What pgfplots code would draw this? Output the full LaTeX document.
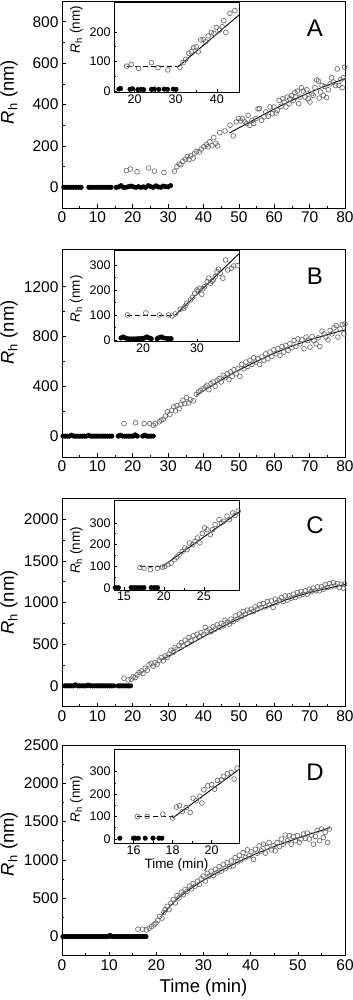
\documentclass[border=0pt]{standalone}
\usepackage{pgfplots}
\pgfplotsset{compat=1.18}
\usepackage{fontspec}
\setmainfont{Liberation Sans}
\definecolor{opengray}{RGB}{105,105,105}
\pgfplotsset{
  common/.style={scale only axis, anchor=north west, tick align=inside,
    xtick pos=left, ytick pos=left, minor x tick num=1, minor y tick num=1,
    tick style={black, line width=0.6bp}, axis line style={line width=0.8bp},
    /pgf/number format/assume math mode=true, scaled ticks=false,
    /pgf/number format/1000 sep={}, axis background/.style={fill=white}},
  mainax/.style={common, width=283bp, xmin=0, xmax=80, xtick={0,10,...,80},
    major tick length=4bp, minor tick length=2.5bp,
    tick label style={font=\fontsize{15.5bp}{18bp}\selectfont},
    label style={font=\fontsize{18.5bp}{21bp}\selectfont},
    ylabel={{\itshape R}\textsubscript{h} (nm)}},
  inset/.style={common, width=125bp, major tick length=3bp, minor tick length=2bp,
    tick label style={font=\fontsize{12.5bp}{15bp}\selectfont},
    xticklabel style={yshift=1.5bp},
    label style={font=\fontsize{13.5bp}{16bp}\selectfont},
    ylabel={{\itshape R}\textsubscript{h} (nm)}},
  openm/.style={only marks, mark=o, mark size=2.4bp, mark options={draw=opengray, line width=0.65bp}},
  fillm/.style={only marks, mark=*, mark size=2.3bp, mark options={fill=black, draw=black}},
  fitl/.style={black, line width=0.9bp, smooth, no marks},
  dashl/.style={black, line width=0.8bp, dash pattern=on 5bp off 3bp, no marks},
}
\newcommand{\panel}[1]{\node[font=\fontsize{24bp}{28bp}\selectfont] at (rel axis cs:0.894,0.87) {#1};}
\begin{document}
\begin{tikzpicture}
\useasboundingbox (0,0) rectangle (353bp,-1000bp);
% ---------------- A ----------------
\begin{axis}[mainax, at={(62bp,-1bp)}, height=207bp, ymin=-100, ymax=900,
  ytick={0,200,400,600,800}, ylabel style={at={(axis description cs:-0.187,0.56)}, anchor=center}]
\addplot[fillm] coordinates {(0.5,0)(1.2,0)(1.9,0)(2.6,0)(3.3,0)(4.0,0)(4.7,0)(5.4,0)(7.6,0)(8.3,0)(9.0,0)(9.7,0)(10.4,0)(11.1,0)(11.8,0)(12.5,0)(13.2,0)(13.9,0)(15.3,0)(16.0,2)(16.7,8)(17.4,0)(18.1,0)(18.8,3)(19.5,6)(20.2,2)(20.9,0)(21.6,3)(22.3,0)(23.0,2)(23.7,0)(24.4,8)(25.1,3)(25.8,0)(26.5,7)(27.2,2)(27.9,0)(28.6,6)(29.3,3)(30.0,2)(30.7,8)};
\addplot[openm] coordinates {(18.2,81)(19.3,88)(21.2,75)(24.5,93)(26.1,78)(28.8,72)(31.8,78)(32.5,100)(33.1,112)(33.6,109)(34.2,125)(34.9,136)(35.5,149)(35.9,133)(36.4,152)(37.1,141)(37.5,165)(38,173)(38.8,171)(39.4,185)(40.1,196)(40.8,206)(41.3,196)(41.8,220)(42.4,201)(42.9,240)(43.5,212)(44,200)(44.6,264)(46.1,272)(47.5,300)(48.4,248)(49.3,316)(49.9,332)(50.5,321)(51,332)(51.7,316)(52.2,308)(52.6,348)(53.1,299)(53.7,324)(54.2,308)(54.8,332)(55.4,379)(55.8,380)(56.4,324)(57.1,340)(57.6,364)(58.3,343)(58.8,388)(59.5,356)(59.9,388)(60.5,359)(60.9,372)(61.4,420)(61.9,391)(62.4,428)(62.8,412)(63.3,388)(63.7,436)(64.2,404)(64.4,428)(64.9,444)(65.4,420)(65.8,458)(66.1,436)(66.5,465)(66.9,404)(67.3,436)(67.7,481)(68.2,465)(68.7,436)(69.2,471)(69.6,428)(70.1,412)(70.6,452)(71,444)(71.5,481)(72,519)(72.5,513)(72.7,431)(73.1,460)(73.5,492)(73.9,444)(74.3,487)(74.8,433)(75.3,471)(75.8,500)(76.2,529)(76.7,508)(77.3,492)(77.8,572)(78.3,492)(78.8,519)(79.2,481)(79.5,529)(79.9,580)};
\addplot[fitl] coordinates {(47.3,262)(50,287)(55,333)(60,378)(65,420)(70,458)(75,493)(80,525)};
\panel{A}
\end{axis}
% ---------------- B ----------------
\begin{axis}[mainax, at={(62bp,-249.3bp)}, height=208bp, ymin=-170, ymax=1500,
  ytick={0,400,800,1200}, ylabel style={at={(axis description cs:-0.187,0.6)}, anchor=center}]
\addplot[fillm] coordinates {(0.3,0)(0.9,0)(1.5,0)(2.1,0)(2.7,8)(3.3,0)(3.9,0)(4.5,0)(5.1,0)(5.7,0)(6.3,0)(6.9,0)(7.5,6)(8.1,0)(8.7,0)(9.3,0)(9.9,0)(10.5,0)(11.1,0)(11.7,0)(12.3,0)(12.9,0)(13.5,0)(14.1,0)(15.9,0)(16.5,8)(17.1,0)(17.7,0)(18.3,0)(18.9,0)(19.5,0)(20.1,0)(20.7,10)(21.3,0)(22.8,0)(23.4,8)(24.0,0)(24.6,0)(25.2,0)(25.8,0)};
\addplot[openm] coordinates {(17.5,101)(20.8,107)(23.2,101)(24.8,101)(25.8,88)(26.4,101)(27.5,115)(28,128)(28.6,136)(29.2,160)(29.8,195)(30.5,176)(31,208)(31.6,235)(32.1,203)(32.5,245)(33.1,221)(33.6,256)(34.2,288)(34.7,261)(35.2,309)(35.8,267)(36.3,293)(37.1,283)(38,336)(38.6,355)(39.2,368)(39.9,381)(40.6,395)(41,408)(41.5,373)(42.1,421)(42.7,435)(43.3,400)(43.9,448)(44.4,461)(45,435)(45.6,488)(46.1,469)(46.7,501)(47.2,453)(47.6,515)(48.1,480)(48.6,533)(49.2,501)(49.7,541)(50.3,480)(50.8,576)(51.4,541)(52,595)(52.5,560)(53.1,608)(53.7,576)(54.2,629)(54.8,595)(55.4,621)(55.9,576)(56.5,635)(57.1,608)(57.6,661)(58.2,621)(58.8,675)(59.3,640)(59.9,693)(60.5,661)(61,701)(61.6,648)(62.2,720)(62.7,675)(63.3,728)(63.9,688)(64.4,741)(65,709)(65.6,768)(66.1,720)(66.7,781)(67.3,741)(67.8,773)(68.4,701)(69,795)(69.5,768)(70.1,715)(70.7,800)(71.2,768)(71.8,741)(72.4,789)(72.9,720)(73.5,843)(74.1,821)(74.6,795)(75.2,773)(75.8,848)(76.3,821)(76.9,869)(77.5,888)(78,795)(78.6,861)(79.2,896)(79.7,821)(80,901)};
\addplot[fitl] coordinates {(38,328)(45,450)(50,530)(55,600)(60,665)(65,722)(70,772)(75,815)(80,853)};
\panel{B}
\end{axis}
% ---------------- C ----------------
\begin{axis}[mainax, at={(62bp,-498.3bp)}, height=208.4bp, ymin=-250, ymax=2250,
  ytick={0,500,1000,1500,2000}, ylabel style={at={(axis description cs:-0.187,0.5)}, anchor=center}]
\addplot[fillm] coordinates {(0.8,0)(1.4,0)(2.0,0)(2.6,0)(3.2,0)(3.8,12)(4.4,0)(5.0,0)(5.6,0)(6.2,0)(6.8,0)(7.4,10)(8.0,0)(8.6,0)(9.2,0)(9.8,0)(10.4,0)(11.0,0)(11.6,0)(12.2,0)(12.8,0)(13.4,0)(14.0,0)(14.6,0)(15.8,0)(16.4,0)(17.0,0)(17.6,0)(18.2,0)(18.8,0)(19.4,0)};
\addplot[openm] coordinates {(17.5,92)(18.7,72)(19.6,80)(20.1,108)(20.7,100)(21.2,132)(21.8,160)(22.4,180)(22.9,148)(23.5,212)(24.1,188)(24.6,252)(25.2,268)(25.8,236)(26.3,280)(26.9,260)(27.5,308)(28,340)(28.6,300)(29.2,360)(29.7,340)(30.3,380)(30.8,428)(31.4,400)(32,460)(32.5,440)(33.1,488)(33.7,520)(34.2,480)(34.8,548)(35.4,508)(35.9,580)(36.5,548)(37.1,600)(37.6,560)(38.2,620)(38.8,588)(39.3,640)(39.9,612)(40.5,700)(41,660)(41.6,680)(42.2,652)(42.7,708)(43.3,680)(43.9,732)(44.4,700)(45,748)(45.6,720)(46.1,788)(46.7,760)(47.3,740)(47.8,800)(48.4,772)(49,840)(49.5,800)(50.1,860)(50.7,828)(51.2,892)(51.8,860)(52.4,908)(52.9,880)(53.5,920)(54.1,892)(54.6,948)(55.2,920)(55.8,972)(56.3,940)(56.9,988)(57.5,948)(58,1012)(58.6,972)(59.2,1020)(59.7,940)(60.3,1040)(60.8,1000)(61.4,1028)(62,1060)(62.5,1012)(63.1,1080)(63.7,1028)(64.2,1080)(64.8,1052)(65.4,1100)(65.9,1060)(66.5,1120)(67.1,1080)(67.6,1132)(68.2,1100)(68.8,1140)(69.3,1100)(69.9,1160)(70.5,1132)(71,1172)(71.6,1140)(72.2,1188)(72.7,1140)(73.3,1188)(73.9,1160)(74.4,1212)(75,1180)(75.6,1228)(76.1,1188)(76.7,1240)(77.3,1200)(77.8,1228)(78.4,1180)(79,1220)(79.5,1172)(79.9,1220)};
\addplot[fitl] coordinates {(28.6,320)(35,470)(40,590)(45,700)(50,805)(55,895)(60,980)(65,1055)(70,1120)(75,1170)(80,1215)};
\panel{C}
\end{axis}
% ---------------- D ----------------
\begin{axis}[mainax, at={(62bp,-745bp)}, height=210.7bp, xmax=60, xtick={0,10,...,60},
  ymin=-250, ymax=2500, ytick={0,500,1000,1500,2000,2500}, xlabel={Time (min)},
  ylabel style={at={(axis description cs:-0.187,0.53)}, anchor=center},
  xlabel style={at={(axis description cs:0.5,-0.152)}, anchor=center}]
\addplot[fillm] coordinates {(0.2,0)(0.6,0)(1.0,0)(1.4,0)(1.8,0)(2.2,0)(2.6,0)(3.0,0)(3.4,0)(3.8,0)(4.2,0)(4.6,0)(5.0,0)(5.4,0)(5.8,0)(6.2,0)(6.6,0)(7.0,0)(7.4,0)(7.8,0)(8.2,0)(8.6,0)(9.0,0)(9.4,0)(9.8,0)(10.2,15)(10.6,0)(11.0,0)(11.4,0)(11.8,0)(12.2,0)(12.6,0)(13.0,0)(13.4,0)(13.8,0)(14.2,0)(14.6,0)(15.0,0)(15.4,0)(15.8,0)(16.2,0)(16.6,0)(17.0,0)(17.4,0)(17.8,0)};
\addplot[openm] coordinates {(16.1,96)(17.1,96)(17.9,88)(18.5,110)(19,132)(19.5,154)(19.9,175)(20.3,211)(20.7,263)(21.2,241)(21.6,316)(21.9,351)(22.3,395)(22.7,351)(23.1,439)(23.6,482)(24,439)(24.4,535)(24.8,504)(25.3,579)(25.7,548)(26.1,614)(26.5,592)(27,658)(27.4,623)(27.8,693)(28.2,658)(28.7,724)(29.1,680)(29.5,754)(29.9,789)(30.4,724)(30.8,825)(31.2,789)(31.6,855)(32.1,798)(32.5,877)(32.9,833)(33.3,912)(33.8,855)(34.2,943)(34.6,886)(35,965)(35.5,912)(35.9,987)(36.3,921)(36.7,1031)(37.2,974)(37.6,1061)(38,1000)(38.4,1096)(38.9,1031)(39.3,1132)(39.7,1053)(40.1,1105)(40.6,1009)(41,1140)(41.4,1088)(41.8,1184)(42.3,1118)(42.7,1206)(43.1,1088)(43.5,1162)(43.9,1228)(44.4,1132)(44.8,1184)(45.2,1118)(45.6,1228)(46.1,1175)(46.5,1272)(46.9,1206)(47.3,1325)(47.8,1250)(48.2,1316)(48.6,1206)(49,1307)(49.5,1250)(49.9,1316)(50.3,1228)(50.7,1272)(51.2,1338)(51.6,1281)(52,1351)(52.4,1272)(52.9,1325)(53.3,1206)(53.7,1307)(54.1,1382)(54.6,1250)(55,1404)(55.4,1294)(55.8,1360)(56.3,1228)(56.7,1404)};
\addplot[fitl] coordinates {(21.2,285)(25,520)(30,735)(35,900)(40,1050)(45,1175)(50,1285)(55,1385)(56.8,1420)};
\panel{D}
\end{axis}
% ---------------- Inset A ----------------
\begin{axis}[inset, at={(114bp,-2.7bp)}, height=89.6bp, xmin=15, xmax=45.4, ymin=-5, ymax=300,
  xtick={20,30,40}, ytick={0,100,200},
  ylabel style={at={(axis description cs:-0.3,0.7)}, anchor=center}]
\addplot[fillm] coordinates {(16.2,6)(16.6,8)(18.9,5)(19.5,7)(20.8,4)(21.6,5)(22.2,4)(24.1,5)(24.8,6)(25.9,5)(27.2,6)(28.0,5)(29.4,6)(30.1,5)};
\addplot[dashl] coordinates {(18.1,82)(30.6,82)};
\addplot[openm] coordinates {(18.1,84)(19.2,90)(21,76)(24.1,96)(25.7,79)(28.1,71)(31,80)(31.8,96)(32.4,107)(33.2,128)(33.8,133)(34.4,147)(35,150)(35.5,133)(36.1,173)(36.7,175)(37.3,167)(37.9,187)(38.7,199)(39.3,196)(39.9,216)(40.7,207)(41.3,218)(41.7,239)(42.2,199)(43.2,264)(44.4,273)};
\addplot[fitl] coordinates {(30.6,82)(45.4,258)};
\end{axis}
% ---------------- Inset B ----------------
\begin{axis}[inset, at={(114bp,-250.7bp)}, height=91bp, xmin=14.6, xmax=37.8, ymin=-7, ymax=357,
  xtick={20,30}, ytick={0,100,200,300},
  ylabel style={at={(axis description cs:-0.3,0.47)}, anchor=center}]
\addplot[fillm] coordinates {(15.9,8)(16.3,12)(16.7,8)(17.1,5)(17.5,4)(17.9,4)(18.3,4)(18.7,4)(19.1,5)(19.5,5)(19.9,6)(20.3,8)(20.7,12)(21.1,8)(21.5,5)(22.6,5)(23.0,10)(23.4,12)(23.8,8)(24.4,6)(24.8,5)(25.2,5)};
\addplot[dashl] coordinates {(17.1,100)(26,100)};
\addplot[openm] coordinates {(17.1,100)(20.5,108)(23.0,100)(24.7,100)(25.4,96)(26.0,104)(26.9,123)(27.5,127)(27.8,135)(28.1,147)(28.8,160)(29.2,170)(29.6,187)(30.0,200)(30.2,195)(30.5,207)(30.9,183)(31.1,205)(31.4,213)(31.9,233)(32.2,247)(32.5,227)(32.8,235)(33.0,240)(33.4,253)(33.7,273)(34.0,283)(34.3,267)(34.8,247)(35.3,320)(35.7,280)(36.4,287)(36.8,296)(37.5,297)};
\addplot[fitl] coordinates {(26,100)(37.8,345)};
\end{axis}
% ---------------- Inset C ----------------
\begin{axis}[inset, at={(114bp,-500bp)}, height=90bp, xmin=13.75, xmax=29.4, ymin=-8, ymax=405,
  xtick={15,20,25}, ytick={0,100,200,300},
  ylabel style={at={(axis description cs:-0.3,0.44)}, anchor=center}]
\addplot[fillm] coordinates {(13.9,3)(14.3,3)(15.9,3)(16.3,3)(16.7,3)(17.1,3)(17.5,3)(18.4,3)(18.8,3)(19.2,3)};
\addplot[dashl] coordinates {(17,100)(19.8,100)};
\addplot[openm] coordinates {(17.0,95)(17.5,92)(18.3,85)(19.2,92)(19.8,97)(20.1,100)(20.5,108)(20.9,115)(21.3,131)(21.6,143)(21.9,154)(22.3,169)(22.6,185)(22.9,177)(23.2,208)(23.6,200)(23.9,215)(24.2,231)(24.5,208)(24.8,251)(25.1,277)(25.4,269)(25.8,246)(26.1,269)(26.4,292)(26.9,315)(27.2,300)(27.5,308)(27.9,331)(28.2,315)(28.6,346)(28.9,334)(29.3,354)};
\addplot[fitl] coordinates {(19.8,100)(29.4,350)};
\end{axis}
% ---------------- Inset D ----------------
\begin{axis}[inset, at={(114bp,-749.3bp)}, height=94bp, xmin=15, xmax=21.4, ymin=-20, ymax=400,
  xtick={16,18,20}, ytick={0,100,200,300}, xlabel={Time (min)},
  ylabel style={at={(axis description cs:-0.3,0.47)}, anchor=center},
  xlabel style={at={(axis description cs:0.5,-0.232)}, anchor=center}]
\addplot[fillm] coordinates {(15.3,3)(16.0,3)(16.1,3)(16.25,3)(16.6,3)(17.0,3)(17.3,3)(17.45,3)};
\addplot[dashl] coordinates {(16.2,100)(18,100)};
\addplot[openm] coordinates {(16.2,100)(16.7,100)(17.5,110)(18,93)(18.2,142)(18.35,148)(18.5,122)(18.7,140)(18.9,118)(19.05,182)(19.2,170)(19.4,190)(19.5,160)(19.6,219)(19.8,237)(20,242)(20.15,222)(20.3,261)(20.5,264)(20.6,279)(20.8,291)(21,297)(21.15,267)(21.3,316)};
\addplot[fitl] coordinates {(18,93)(21.4,310)};
\end{axis}
\end{tikzpicture}
\end{document}
